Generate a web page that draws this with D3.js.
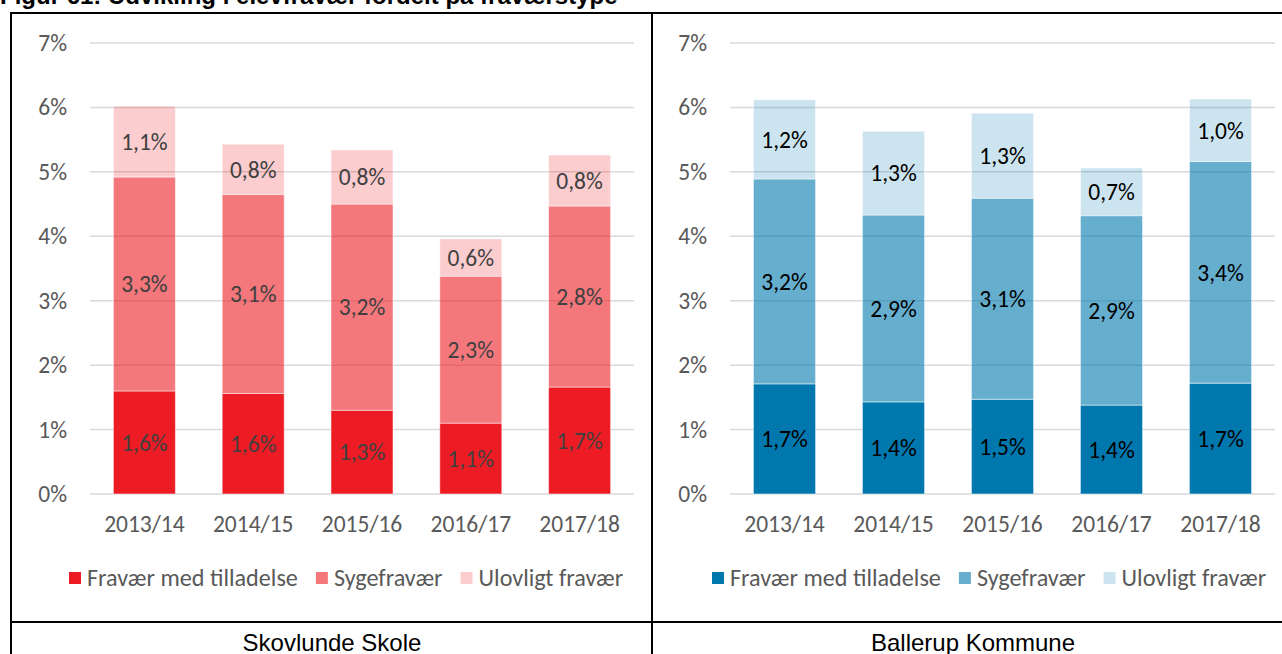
<!DOCTYPE html>
<html>
<head>
<meta charset="utf-8">
<script src="https://cdn.jsdelivr.net/npm/d3@7/dist/d3.min.js"></script>
<style>
  html, body { margin: 0; padding: 0; background: #fff; }
  svg { display: block; }
</style>
</head>
<body>
<svg id="chart" width="1282" height="654"></svg>
<script>
// School years on the x axis
const categories = ["2013/14", "2014/15", "2015/16", "2016/17", "2017/18"];
// Absence types (stack order, bottom to top)
const seriesNames = ["Fravær med tilladelse", "Sygefravær", "Ulovligt fravær"];

// Skovlunde Skole, absence in percent
const skovlundeTilladelse = [1.60, 1.56, 1.30, 1.10, 1.66];
const skovlundeSyge       = [3.32, 3.09, 3.20, 2.28, 2.81];
const skovlundeUlovligt   = [1.10, 0.78, 0.84, 0.58, 0.79];

// Ballerup Kommune, absence in percent
const ballerupTilladelse = [1.71, 1.43, 1.47, 1.38, 1.72];
const ballerupSyge       = [3.18, 2.90, 3.12, 2.94, 3.44];
const ballerupUlovligt   = [1.23, 1.30, 1.32, 0.74, 0.97];

// Value axis ticks (percent)
const yTicks = [0, 1, 2, 3, 4, 5, 6, 7];

const titleText = "Figur 61: Udvikling i elevfravær fordelt på fraværstype";
const captions = ["Skovlunde Skole", "Ballerup Kommune"];

const svg = d3.select("#chart");
const LABEL_FONT = "Carlito, Lato, sans-serif";
const LABEL_SIZE = 23.5;
const LEGEND_SIZE = 24.2;
const TABLE_FONT = "'Liberation Sans', Arial, sans-serif";

// Figure title (mostly above the page edge)
svg.append("text")
  .attr("x", 0).attr("y", 4)
  .attr("font-family", TABLE_FONT)
  .attr("font-weight", "bold")
  .attr("font-size", 24)
  .attr("fill", "#000")
  .text(titleText);

// Table frame
const frame = svg.append("g").attr("stroke", "#000").attr("stroke-width", 2);
frame.append("line").attr("x1", 11).attr("x2", 1282).attr("y1", 13).attr("y2", 13);
frame.append("line").attr("x1", 11).attr("x2", 11).attr("y1", 12).attr("y2", 654);
frame.append("line").attr("x1", 652).attr("x2", 652).attr("y1", 12).attr("y2", 654);
frame.append("line").attr("x1", 11).attr("x2", 1282).attr("y1", 622).attr("y2", 622);

// Captions under each chart
svg.selectAll("text.caption")
  .data([{ x: 332, t: captions[0] }, { x: 973, t: captions[1] }])
  .join("text")
  .attr("class", "caption")
  .attr("x", d => d.x).attr("y", 651)
  .attr("text-anchor", "middle")
  .attr("font-family", TABLE_FONT)
  .attr("font-size", 24)
  .attr("fill", "#000")
  .text(d => d.t);

function drawPanel(cfg) {
  const g = svg.append("g");
  const rows = categories.map((c, i) => ({
    cat: c,
    [seriesNames[0]]: cfg.values[0][i],
    [seriesNames[1]]: cfg.values[1][i],
    [seriesNames[2]]: cfg.values[2][i]
  }));
  const stacked = d3.stack().keys(seriesNames)(rows);

  const x = d3.scaleBand()
    .domain(categories)
    .range([cfg.left, cfg.right])
    .paddingInner(0.43)
    .paddingOuter(0.215);
  const y = d3.scaleLinear().domain([0, 7]).range([494, 43]);

  // Horizontal gridlines
  g.append("g").selectAll("line")
    .data(yTicks)
    .join("line")
    .attr("x1", cfg.left).attr("x2", cfg.right)
    .attr("y1", d => y(d)).attr("y2", d => y(d))
    .attr("stroke", "#d9d9d9")
    .attr("stroke-width", 1.5);

  // Y axis labels
  const yAxis = g.append("g")
    .attr("transform", `translate(${cfg.left},0)`)
    .call(d3.axisLeft(y).tickValues(yTicks).tickSize(0).tickPadding(23)
      .tickFormat(d => d + "%"));
  yAxis.select(".domain").remove();
  yAxis.selectAll("text")
    .attr("font-family", LABEL_FONT).attr("font-size", LABEL_SIZE).attr("fill", "#595959");

  // X axis labels
  const xAxis = g.append("g")
    .attr("transform", "translate(0,494)")
    .call(d3.axisBottom(x).tickSize(0).tickPadding(21));
  xAxis.select(".domain").remove();
  xAxis.selectAll("text")
    .attr("font-family", LABEL_FONT).attr("font-size", LABEL_SIZE).attr("fill", "#595959");

  // Stacked bars
  const layers = g.append("g").selectAll("g")
    .data(stacked)
    .join("g")
    .attr("fill", cfg.color)
    .attr("fill-opacity", (d, i) => cfg.opacity[i]);
  layers.selectAll("rect")
    .data(d => d)
    .join("rect")
    .attr("x", d => x(d.data.cat))
    .attr("width", x.bandwidth())
    .attr("y", d => y(d[1]))
    .attr("height", d => y(d[0]) - y(d[1]))
    .attr("stroke", "#fff")
    .attr("stroke-opacity", 0.5)
    .attr("stroke-width", 1);

  // Value labels centred in each segment
  const fmt = v => d3.format(".1f")(v).replace(".", ",") + "%";
  const lbl = g.append("g").selectAll("g")
    .data(stacked)
    .join("g");
  lbl.selectAll("text")
    .data(d => d)
    .join("text")
    .attr("x", d => x(d.data.cat) + x.bandwidth() / 2)
    .attr("y", d => (y(d[0]) + y(d[1])) / 2)
    .attr("dy", "0.35em")
    .attr("text-anchor", "middle")
    .attr("font-family", LABEL_FONT)
    .attr("font-size", LABEL_SIZE)
    .attr("fill", cfg.labelColor)
    .text(d => fmt(d[1] - d[0]));

  // Legend
  const legend = g.append("g").attr("transform", `translate(${cfg.legendX},578)`);
  let cx = 0;
  seriesNames.forEach((name, i) => {
    legend.append("rect")
      .attr("x", cx).attr("y", -6)
      .attr("width", 12).attr("height", 12)
      .attr("fill", cfg.color)
      .attr("fill-opacity", cfg.opacity[i]);
    const t = legend.append("text")
      .attr("x", cx + 18).attr("y", 0)
      .attr("dy", "0.35em")
      .attr("font-family", LABEL_FONT)
      .attr("font-size", LEGEND_SIZE)
      .attr("fill", "#595959")
      .text(name);
    cx += 18 + t.node().getComputedTextLength() + 18;
  });
}

drawPanel({
  left: 90, right: 634,
  values: [skovlundeTilladelse, skovlundeSyge, skovlundeUlovligt],
  color: "#ed1c24",
  opacity: [1, 0.6, 0.22],
  labelColor: "#404040",
  legendX: 69
});

drawPanel({
  left: 730, right: 1275,
  values: [ballerupTilladelse, ballerupSyge, ballerupUlovligt],
  color: "#0078ae",
  opacity: [1, 0.6, 0.2],
  labelColor: "#000",
  legendX: 712
});
</script>
</body>
</html>
